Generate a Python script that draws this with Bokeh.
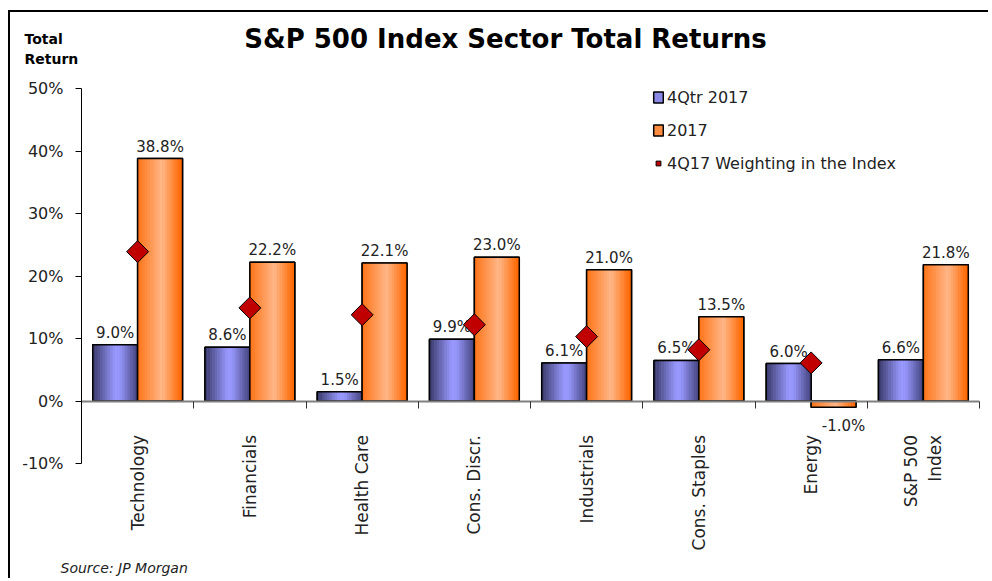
import numpy as np
from bokeh.plotting import figure
from bokeh.models import (Range1d, FixedTicker, PrintfTickFormatter, Label,
                          Legend, LegendItem, LinearAxis)
from bokeh.embed import file_html
from bokeh.resources import INLINE
from bokeh.core.properties import value

# ---------------- data ----------------
categories = ["Technology", "Financials", "Health Care", "Cons. Discr.",
              "Industrials", "Cons. Staples", "Energy", "S&P 500\nIndex"]
q4_2017 = [9.0, 8.6, 1.5, 9.9, 6.1, 6.5, 6.0, 6.6]
fy_2017 = [38.8, 22.2, 22.1, 23.0, 21.0, 13.5, -1.0, 21.8]
weighting = [23.9, 14.9, 13.8, 12.2, 10.3, 8.2, 6.1]   # none for S&P 500 Index
y_ticks = [-10, 0, 10, 20, 30, 40, 50]

FONT = "DejaVu Sans"
TXT = "#222222"

xi = list(range(len(categories)))

# ---------------- geometry (pixels) ----------------
W, H = 980, 568          # drawing area; page origin of it is (10, 12)
OX, OY = 10, 12
AX_L, AX_R = 81, 979     # page x of axis ends
AX_T, AX_B = 88, 463     # page y of 50% and -10%
ppx = (AX_R - AX_L) / 8.0
ppy = (AX_B - AX_T) / 60.0
x0 = -0.5 - (AX_L - OX) / ppx
x1 = 7.5 + (OX + W - AX_R) / ppx
y1 = 50 + (AX_T - OY) / ppy
y0 = -10 - (OY + H - AX_B) / ppy

p = figure(width=W, height=H, x_range=Range1d(x0, x1), y_range=Range1d(y0, y1),
           output_backend="svg", toolbar_location=None,
           x_axis_location=None, y_axis_location=None,
           min_border=0, min_border_left=0, min_border_right=0,
           min_border_top=0, min_border_bottom=0,
           styles={"margin-top": "10px", "margin-left": "8px",
                   "border-top": "2px solid black", "border-left": "2px solid black"})
p.grid.visible = False
p.outline_line_color = None
p.background_fill_color = "white"
p.border_fill_color = "white"

# y axis (drawn at the left end of the category axis)
yax = LinearAxis(fixed_location=-0.5, bounds=(-10, 50))
yax.ticker = FixedTicker(ticks=y_ticks)
yax.formatter = PrintfTickFormatter(format="%d%%")
yax.major_tick_out = 6
yax.major_tick_in = 0
yax.minor_tick_line_color = None
yax.axis_line_color = "black"
yax.major_tick_line_color = "black"
yax.major_label_standoff = 12
yax.major_label_text_font = FONT
yax.major_label_text_font_size = "16px"
yax.major_label_text_color = TXT
p.add_layout(yax, "left")

# x axis at y = 0
xax = LinearAxis(fixed_location=0, bounds=(-0.5, 7.5))
xax.ticker = FixedTicker(ticks=xi, minor_ticks=[k - 0.5 for k in range(len(categories) + 1)])
xax.major_label_overrides = {i: c for i, c in enumerate(categories)}
xax.major_tick_line_color = None
xax.major_tick_out = 0
xax.major_tick_in = 0
xax.minor_tick_out = 7
xax.minor_tick_in = 0
xax.minor_tick_line_color = "#333333"
xax.axis_line_color = "#808080"
xax.axis_line_width = 2
xax.major_label_orientation = np.pi / 2
xax.major_label_standoff = 27
xax.major_label_text_font = FONT
xax.major_label_text_font_size = "17px"
xax.major_label_text_color = TXT
p.add_layout(xax, "below")


def grad(stops, t):
    ts = [s[0] for s in stops]
    r = np.interp(t, ts, [s[1][0] for s in stops])
    g = np.interp(t, ts, [s[1][1] for s in stops])
    b = np.interp(t, ts, [s[1][2] for s in stops])
    return "#%02x%02x%02x" % (int(r), int(g), int(b))


blue_stops = [(0.0, (62, 62, 112)), (0.5, (153, 153, 255)), (0.62, (150, 150, 250)), (1.0, (72, 72, 132))]
orange_stops = [(0.0, (255, 118, 28)), (0.55, (255, 184, 138)), (1.0, (255, 104, 0))]

BW = 0.4
N = 18


def bars(vals, off, stops, mid):
    xs = [i + off for i in xi]
    base = p.vbar(x=xs, top=vals, bottom=0, width=BW, fill_color=mid,
                  line_color="black", line_width=1.5)
    sx, st, sc = [], [], []
    w = BW / N
    for i, v in enumerate(vals):
        for k in range(N):
            sx.append(i + off - BW / 2 + (k + 0.5) * w)
            st.append(v)
            sc.append(grad(stops, k / (N - 1)))
    p.vbar(x=sx, top=st, bottom=0, width=w * 1.15, fill_color=sc, line_color=None)
    p.vbar(x=xs, top=vals, bottom=0, width=BW, fill_color=None,
           line_color="black", line_width=1.5)
    return base


r_q4 = bars(q4_2017, -0.2, blue_stops, "#8a8ae6")
r_fy = bars(fy_2017, 0.2, orange_stops, "#ff8c40")

# value labels
for vals, off in ((q4_2017, -0.2), (fy_2017, 0.2)):
    pos = [(i + off, v) for i, v in enumerate(vals) if v >= 0]
    neg = [(i + off, v) for i, v in enumerate(vals) if v < 0]
    if pos:
        p.text(x=[a for a, b in pos], y=[b for a, b in pos],
               text=["%.1f%%" % b for a, b in pos], text_align="center",
               text_baseline="bottom", y_offset=-3, text_font=value(FONT),
               text_font_size="15px", text_color=TXT)
    if neg:
        p.text(x=[a for a, b in neg], y=[b for a, b in neg],
               text=["%.1f%%" % b for a, b in neg], text_align="center",
               text_baseline="top", x_offset=10, y_offset=10, text_font=value(FONT),
               text_font_size="15px", text_color=TXT)

# weighting diamonds
r_w = p.scatter(x=xi[:len(weighting)], y=weighting, marker="square", angle=np.pi / 4,
                size=15.5, fill_color="#c00000", line_color="black", line_width=1)

legend = Legend(items=[LegendItem(label="4Qtr 2017", renderers=[r_q4]),
                       LegendItem(label="2017", renderers=[r_fy]),
                       LegendItem(label="4Q17 Weighting in the Index", renderers=[r_w])],
                location=(642, 407), glyph_width=12, glyph_height=14, label_standoff=3,
                label_height=20, spacing=13, padding=0, margin=0,
                border_line_color=None, background_fill_alpha=0,
                label_text_font=FONT, label_text_font_size="16px", label_text_color=TXT)
p.add_layout(legend)

# texts (screen units relative to the drawing area, y measured from its bottom)
def lab(px, py, text, size, style="normal", align="left", color="black"):
    p.add_layout(Label(x=px - OX, y=OY + H - py, x_units="screen", y_units="screen",
                       text=text, text_align=align, text_baseline="middle",
                       text_font=FONT, text_font_style=style,
                       text_font_size=size, text_color=color))


lab(505, 38, "S&P 500 Index Sector Total Returns", "26px", "bold", "center")
lab(24, 38, "Total", "14px", "bold")
lab(24, 58, "Return", "14px", "bold")
lab(60, 567, "Source: JP Morgan", "14px", "italic", "left", TXT)

open("out.html", "w").write(file_html(p, INLINE))
